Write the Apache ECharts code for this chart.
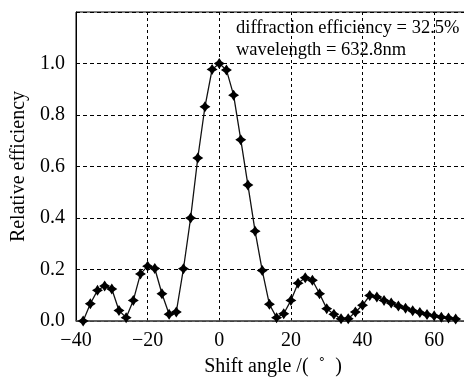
<!DOCTYPE html>
<html>

<head>
    <title>Relative efficiency vs shift angle</title>
    <meta charset="utf-8">
    <script src="https://cdn.jsdelivr.net/npm/echarts@6/dist/echarts.min.js"></script>
    <style>
        html, body { margin: 0; padding: 0; background: #fff; }
    </style>
</head>

<body>
    <div id="main" style="width: 464px;height:379px;"></div>

    <script type="text/javascript">
        // values
        var angles = [-38, -36, -34, -32, -30, -28, -26, -24, -22, -20, -18, -16, -14, -12, -10, -8, -6, -4, -2, 0,
            2, 4, 6, 8, 10, 12, 14, 16, 18, 20, 22, 24, 26, 28, 30, 32, 34, 36, 38, 40,
            42, 44, 46, 48, 50, 52, 54, 56, 58, 60, 62, 64, 66];
        var efficiency = [0.0, 0.067, 0.119, 0.136, 0.124, 0.041, 0.013, 0.080, 0.183, 0.213, 0.204, 0.106, 0.026, 0.035, 0.203, 0.40, 0.633, 0.832, 0.977, 1.0,
            0.975, 0.877, 0.704, 0.528, 0.349, 0.196, 0.065, 0.013, 0.028, 0.080, 0.147, 0.168, 0.158, 0.106, 0.048, 0.026, 0.009, 0.009, 0.035, 0.061,
            0.099, 0.093, 0.080, 0.070, 0.058, 0.050, 0.040, 0.033, 0.025, 0.020, 0.015, 0.012, 0.008];
        var notes = ['diffraction efficiency = 32.5%', 'wavelength = 632.8nm'];

        var points = angles.map(function (a, i) { return [a, efficiency[i]]; });
        var serif = 'Liberation Serif';

        var myChart = echarts.init(document.getElementById('main'));

        var option = {
            animation: false,
            grid: {
                left: 76,
                top: 12,
                width: 394,
                bottom: 58,
                outerBoundsMode: 'none',
                show: true,
                borderColor: '#000',
                borderWidth: 1
            },
            graphic: [{
                type: 'text',
                left: 236,
                top: 17,
                style: {
                    text: notes.join('\n'),
                    font: '18.5px ' + serif,
                    fill: '#000',
                    lineHeight: 22
                }
            }],
            xAxis: {
                type: 'value',
                min: -40,
                max: 70,
                interval: 20,
                name: 'Shift angle /(  \u02da  )',
                nameLocation: 'middle',
                nameGap: 36,
                nameTextStyle: { fontFamily: serif, fontSize: 20, color: '#000' },
                axisLine: { onZero: false, lineStyle: { color: '#555', width: 1.5 } },
                axisTick: { show: false },
                axisLabel: {
                    margin: 10,
                    fontFamily: serif,
                    fontSize: 20,
                    color: '#000',
                    showMaxLabel: false,
                    formatter: function (v) { return v < 0 ? '\u2212' + (-v) : String(v); }
                },
                splitLine: { lineStyle: { color: '#000', type: [3, 3], width: 1 } }
            },
            yAxis: {
                type: 'value',
                min: 0,
                max: 1.2,
                interval: 0.2,
                name: 'Relative efficiency',
                nameLocation: 'middle',
                nameGap: 46,
                nameTextStyle: { fontFamily: serif, fontSize: 20, color: '#000' },
                axisLine: { show: true, onZero: false, lineStyle: { color: '#000', width: 1 } },
                axisTick: { show: false },
                axisLabel: {
                    margin: 11,
                    fontFamily: serif,
                    fontSize: 20,
                    color: '#000',
                    showMaxLabel: false,
                    formatter: function (v) { return v.toFixed(1); }
                },
                splitLine: { lineStyle: { color: '#000', type: [4, 3], width: 1 } }
            },
            series: [{
                type: 'line',
                data: points,
                symbol: 'path://M0,-10 L4,-4 L10,0 L4,4 L0,10 L-4,4 L-10,0 L-4,-4 Z',
                symbolSize: 11,
                itemStyle: { color: '#000' },
                lineStyle: { color: '#111', width: 1.3 }
            }]
        };

        myChart.setOption(option);
    </script>
</body>

</html>
